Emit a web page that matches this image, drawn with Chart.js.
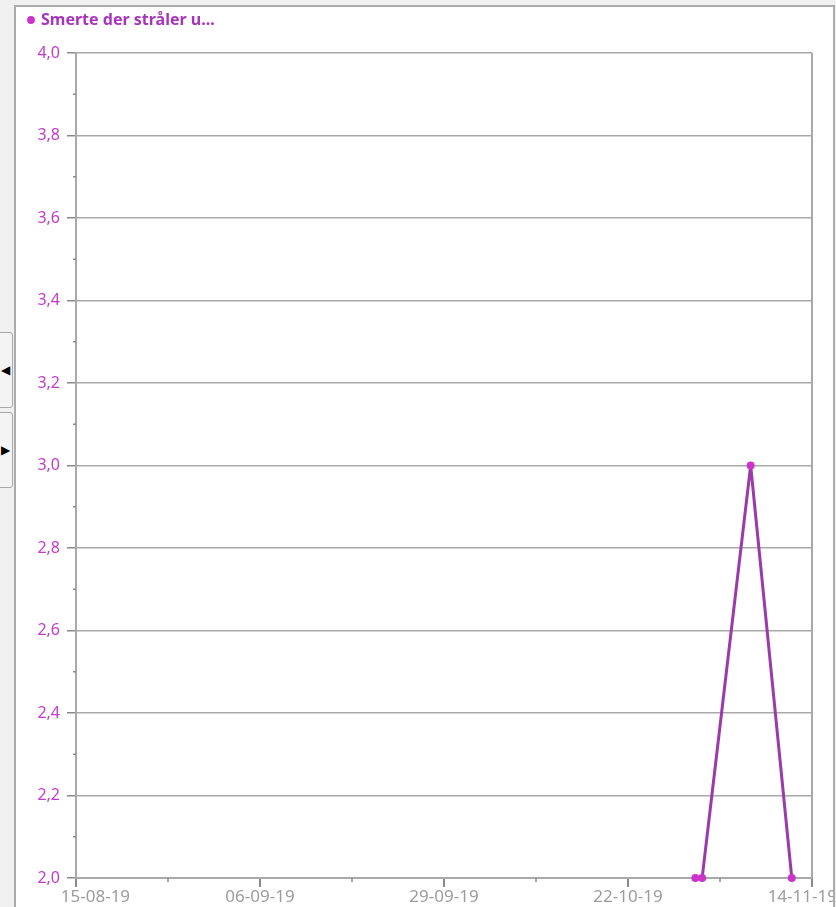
<!DOCTYPE html>
<html>
<head>
<meta charset="utf-8">
<script src="https://cdn.jsdelivr.net/npm/chart.js@4.4.1/dist/chart.umd.min.js"></script>
<style>
html, body { margin: 0; padding: 0; width: 836px; height: 907px; overflow: hidden; background: #f0f0f0; }
#panel { position: absolute; left: 14px; top: 5px; width: 817px; height: 910px; border: 2px solid #ababab; background: #fff; }
#wrap { position: absolute; left: 0; top: 0; width: 817px; height: 900px; }
.btn { position: absolute; left: -6px; width: 17px; height: 74px; border: 1px solid #a8a8a8; border-radius: 3px; background: #f4f4f4; font: 12px "Noto Sans"; color: #000; }
.btn span { position: absolute; right: 2px; top: 28px; }
</style>
</head>
<body>
<div class="btn" style="top:332px"><span>&#9664;</span></div>
<div class="btn" style="top:412px"><span>&#9654;</span></div>
<div id="panel"><div id="wrap"><canvas id="chart"></canvas></div></div>
<script>
// x axis runs from axisStart to axisEnd, 4 labelled steps
const axisStart = '2019-08-15'
const axisEnd = '2019-11-14'
const pointDates = ['2019-10-30T14:00', '2019-10-31T10:00', '2019-11-06T10:00', '2019-11-11T12:00']
const pointValues = [2.0, 2.0, 3.0, 2.0]
const seriesName = 'Smerte der stråler u...'
const yMin = 2.0
const yMax = 4.0

const DAY = 86400000
const startMs = Date.parse(axisStart + 'T00:00Z')
const spanDays = (Date.parse(axisEnd + 'T00:00Z') - startMs) / DAY

function dayOf(d) {
    return (Date.parse(d + 'Z') - startMs) / DAY
}

function fmtDate(days) {
    var d = new Date(startMs + days * DAY)
    var dd = String(d.getUTCDate()).padStart(2, '0')
    var mm = String(d.getUTCMonth() + 1).padStart(2, '0')
    var yy = String(d.getUTCFullYear()).slice(2)
    return dd + '-' + mm + '-' + yy
}

function isMajorY(v) {
    return Math.round(v * 10) % 2 === 0
}

const gridColor = '#a9a9a9'
const FS = '\u2007'

// small ticks between the labelled ones
const minorTicks = {
    id: 'minorTicks',
    afterDraw(chart) {
        var ctx = chart.ctx, xs = chart.scales.x, ys = chart.scales.y, a = chart.chartArea
        ctx.save()
        ctx.strokeStyle = '#8a8a8a'
        ctx.lineWidth = 1.5
        ctx.beginPath()
        xs.ticks.forEach(function (t, i) {
            if (i % 2 === 1) {
                var px = xs.getPixelForValue(t.value)
                ctx.moveTo(px, a.bottom)
                ctx.lineTo(px, a.bottom + 4)
            }
        })
        ys.ticks.forEach(function (t) {
            if (!isMajorY(t.value)) {
                var py = ys.getPixelForValue(t.value)
                ctx.moveTo(a.left - 3, py)
                ctx.lineTo(a.left, py)
            }
        })
        ctx.stroke()
        ctx.restore()
    }
}

const legendHeight = {
    id: 'legendHeight',
    beforeLayout(chart) {
        var lg = chart.legend
        if (lg && !lg._patched) {
            var fit = lg.fit
            lg.fit = function () {
                fit.call(this)
                this.height = 46
            }
            lg._patched = true
        }
    }
}

var xTickCount = 8

new Chart(document.getElementById('chart'), {
    type: 'line',
    data: {
        datasets: [{
            label: seriesName,
            data: pointDates.map(function (d, i) { return { x: dayOf(d), y: pointValues[i] } }),
            borderColor: '#9b3bab',
            borderWidth: 3,
            borderJoinStyle: 'round',
            pointBackgroundColor: '#cc33cc',
            pointBorderColor: '#cc33cc',
            pointRadius: 4,
            pointBorderWidth: 0,
            tension: 0,
            fill: false,
            clip: false
        }]
    },
    options: {
        responsive: true,
        maintainAspectRatio: false,
        animation: false,
        layout: { padding: { left: 8, right: 21, top: 0, bottom: 0 } },
        plugins: {
            legend: {
                position: 'top',
                align: 'start',
                labels: {
                    usePointStyle: true,
                    pointStyle: 'circle',
                    boxWidth: 4,
                    boxHeight: 5.5,
                    padding: 5,
                    color: '#a834bb',
                    font: { family: 'Noto Sans', size: 16, weight: 'bold' }
                }
            },
            tooltip: { enabled: false }
        },
        scales: {
            x: {
                type: 'linear',
                min: 0,
                max: spanDays,
                afterFit: function (s) { s.height = 29; s.paddingLeft = 0; s.paddingRight = 0 },
                ticks: {
                    stepSize: spanDays / xTickCount,
                    autoSkip: false,
                    maxRotation: 0,
                    padding: 0,
                    color: '#9c9c9c',
                    font: { family: 'Noto Sans', size: 17 },
                    callback: function (v, i, ticks) {
                        if (i % 2 === 1) return ''
                        var s = fmtDate(v)
                        if (i === 0) return FS + FS + FS + FS + s
                        if (i === ticks.length - 1) return s + FS + FS
                        return s
                    }
                },
                grid: {
                    drawOnChartArea: true,
                    tickLength: 9,
                    lineWidth: 2,
                    color: function (c) { return c.index === xTickCount ? gridColor : 'rgba(0,0,0,0)' },
                    tickColor: function (c) { return c.index % 2 === 0 ? '#8a8a8a' : 'rgba(0,0,0,0)' }
                },
                border: { color: gridColor, width: 2 }
            },
            y: {
                min: yMin,
                max: yMax,
                afterFit: function (s) { s.width = 52; s.paddingTop = 0; s.paddingBottom = 0 },
                ticks: {
                    stepSize: 0.1,
                    autoSkip: false,
                    padding: 7,
                    color: '#c23ccb',
                    font: { family: 'Noto Sans', size: 16 },
                    callback: function (v) {
                        return isMajorY(v) ? v.toFixed(1).replace('.', ',') : ''
                    }
                },
                grid: {
                    tickLength: 9,
                    color: function (c) { return isMajorY(c.tick.value) ? gridColor : 'rgba(0,0,0,0)' },
                    tickColor: function (c) { return isMajorY(c.tick.value) ? '#8a8a8a' : 'rgba(0,0,0,0)' },
                    lineWidth: 1.5
                },
                border: { color: gridColor, width: 2 }
            }
        }
    },
    plugins: [minorTicks, legendHeight]
})
</script>
</body>
</html>
